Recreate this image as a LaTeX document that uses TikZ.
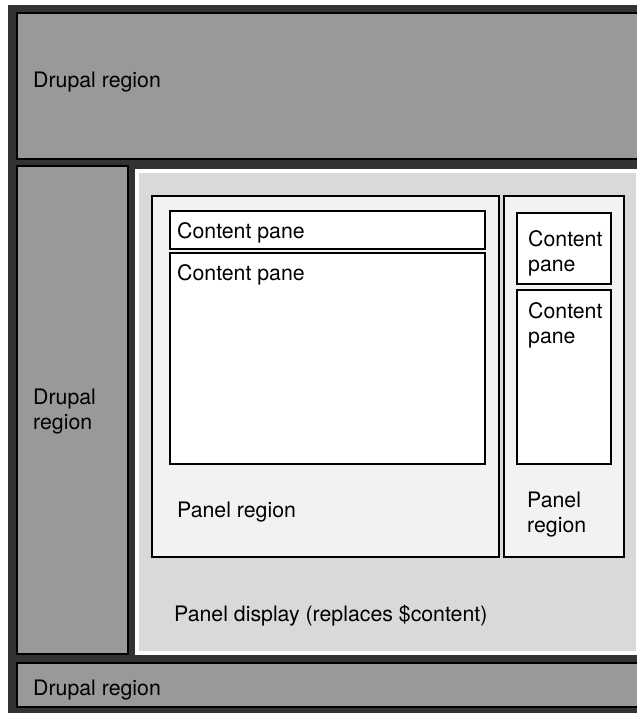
\documentclass[tikz,border=0pt]{standalone}
\usepackage{fontspec}
\setmainfont{TeX Gyre Heros}
\definecolor{frameback}{HTML}{333333}
\definecolor{drupalgray}{HTML}{999999}
\definecolor{displaygray}{HTML}{D9D9D9}
\definecolor{panelgray}{HTML}{F2F2F2}

\begin{document}
\begin{tikzpicture}[x=1pt,y=-1pt,
  drupal/.style={fill=drupalgray,draw=black,line width=2pt},
  panelreg/.style={fill=panelgray,draw=black,line width=1.6pt},
  pane/.style={fill=white,draw=black,line width=1.6pt},
  boxtext/.style={anchor=base west,inner sep=0pt,align=left,
    font=\fontsize{21.3}{25}\selectfont}]
  \useasboundingbox (0,0) rectangle (637,713);
  \clip (0,0) rectangle (637,713);

  % Draw the page frame
  \fill[frameback] (8,5) rectangle (660,730);

  % Draw the Drupal regions
  \filldraw[drupal] (17,13) rectangle (660,159);
  \filldraw[drupal] (17,166) rectangle (128,654);
  \filldraw[drupal] (17,663) rectangle (660,707);

  % Draw the panel display
  \filldraw[fill=displaygray,draw=white,line width=3.5pt] (137,171) rectangle (638,653);

  % Draw the panel regions
  \filldraw[panelreg] (152,196) rectangle (499,557);
  \filldraw[panelreg] (504,196) rectangle (624,557);

  % Draw the content panes
  \filldraw[pane] (170,211) rectangle (485,249);
  \filldraw[pane] (170,253) rectangle (485,464);
  \filldraw[pane] (517,213) rectangle (611,284);
  \filldraw[pane] (517,290) rectangle (611,464);

  % Labels (multi-line ones sit on their last baseline)
  \node[boxtext] (topreg) at (33,87) {Drupal region};
  \node[boxtext] (leftreg) at (33,429) {Drupal\\region};
  \node[boxtext] (bottomreg) at (33,695) {Drupal region};

  \node[boxtext] (paneA) at (177,238) {Content pane};
  \node[boxtext] (paneB) at (177,280) {Content pane};
  \node[boxtext] (paneC) at (528,271) {Content\\pane};
  \node[boxtext] (paneD) at (528,343) {Content\\pane};

  \node[boxtext] (panelA) at (177,517) {Panel region};
  \node[boxtext] (panelB) at (527,532) {Panel\\region};

  \node[boxtext] (display) at (174,621) {Panel display (replaces \$content)};
\end{tikzpicture}
\end{document}
